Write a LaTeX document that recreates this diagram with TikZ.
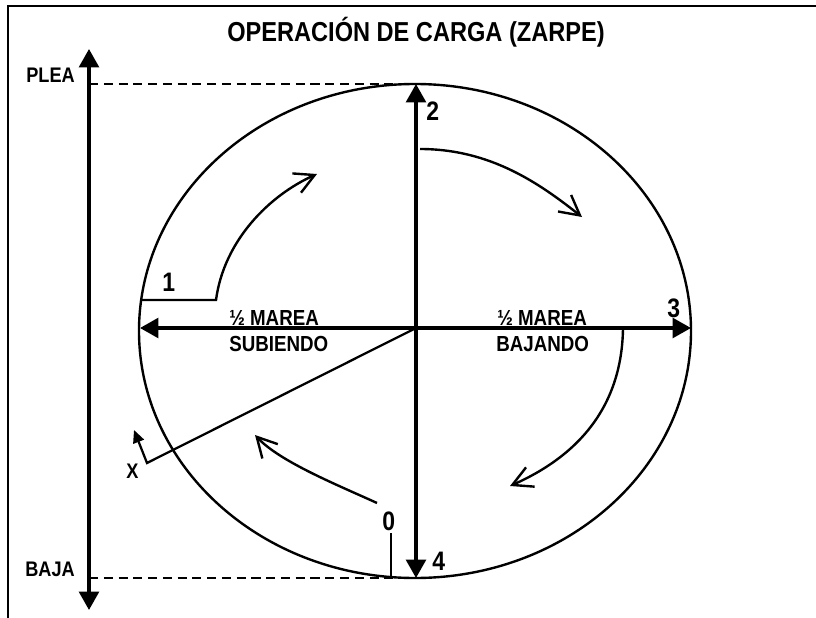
\documentclass[tikz,border=0pt]{standalone}
\usepackage{fontspec}
\setmainfont[FakeStretch=0.86]{Liberation Sans}
\usetikzlibrary{arrows.meta}

\begin{document}
\begin{tikzpicture}
        [
            x = 0.025cm, y = -0.025cm,
            eje/.style = {line width = 2.3pt, {Triangle[length = 13pt, width = 14pt]}-{Triangle[length = 13pt, width = 14pt]}},
            giro/.style = {line width = 1.7pt, -{Straight Barb[length = 14pt, width = 15pt]}},
            guia/.style = {line width = 1.8pt, dash pattern = on 6.5pt off 4pt},
            txt/.style = {inner sep = 0pt, font = \fontsize{15.5}{18}\selectfont\bfseries},
            num/.style = {inner sep = 0pt, font = \fontsize{19}{22}\selectfont\bfseries},
            chico/.style = {inner sep = 0pt, font = \fontsize{15}{17}\selectfont\bfseries}
        ]
        \useasboundingbox (0,0) rectangle (816,618);
        \draw[line width = 1.5pt] (8,618) -- (8,6) -- (816,6);

        \node[inner sep = 0pt, font = \fontsize{19.5}{22}\selectfont\bfseries, anchor = base] (titulo) at (416,41) {OPERACIÓN DE CARGA (ZARPE)};

        \coordinate (centro) at (416,328);
        \coordinate (arriba) at (416,84);
        \coordinate (abajo) at (416,578);
        \coordinate (izq) at (140,328);
        \coordinate (der) at (691,328);
        \coordinate (plea) at (89,84);
        \coordinate (baja) at (89,578);

        \draw[line width = 1.7pt] (415,331) ellipse [x radius = 276, y radius = 247];

        \draw[eje] (89,610) -- (89,49);
        \draw[guia] (plea) -- (arriba);
        \draw[guia] (baja) -- (abajo);
        \draw[eje] (abajo) -- (arriba);
        \draw[eje] (izq) -- (der);

        \node[chico, anchor = base east] (tplea) at (75,82) {PLEA};
        \node[chico, anchor = base east] (tbaja) at (75,576) {BAJA};

        \node[num, anchor = base west] (n1) at (162,291) {1};
        \node[num, anchor = base west] (n2) at (426,120) {2};
        \node[num, anchor = base west] (n3) at (667,317) {3};
        \node[num, anchor = base west] (n4) at (432,570) {4};
        \node[num, anchor = base west] (n0) at (382,530) {0};

        \node[txt, anchor = base west] (sube1) at (229,325) {½ MAREA};
        \node[txt, anchor = base west] (sube2) at (229,351) {SUBIENDO};
        \node[txt, anchor = base west] (baja1) at (497,325) {½ MAREA};
        \node[txt, anchor = base west] (baja2) at (496,351) {BAJANDO};

        \coordinate (xpie) at (147,463);
        \coordinate (xtope) at (134,430);
        \draw[line width = 1.6pt, -{Triangle[length = 9pt, width = 8pt]}] (centro) -- (xpie) -- (xtope);
        \node[chico, anchor = base west] (tx) at (126,478) {X};

        \draw[line width = 1.7pt] (391,533) -- (abajo -| 391,0);

        \draw[giro] (140,300) -- (216,300) .. controls (224,240) and (270,195) .. (317,174);
        \draw[giro] (420,149) .. controls (490,149) and (539,183) .. (582,217);
        \draw[giro] (623,328) .. controls (622,405) and (580,455) .. (510,486);
        \draw[giro] (377,503) .. controls (340,486) and (280,462) .. (255,435);
\end{tikzpicture}
\end{document}
